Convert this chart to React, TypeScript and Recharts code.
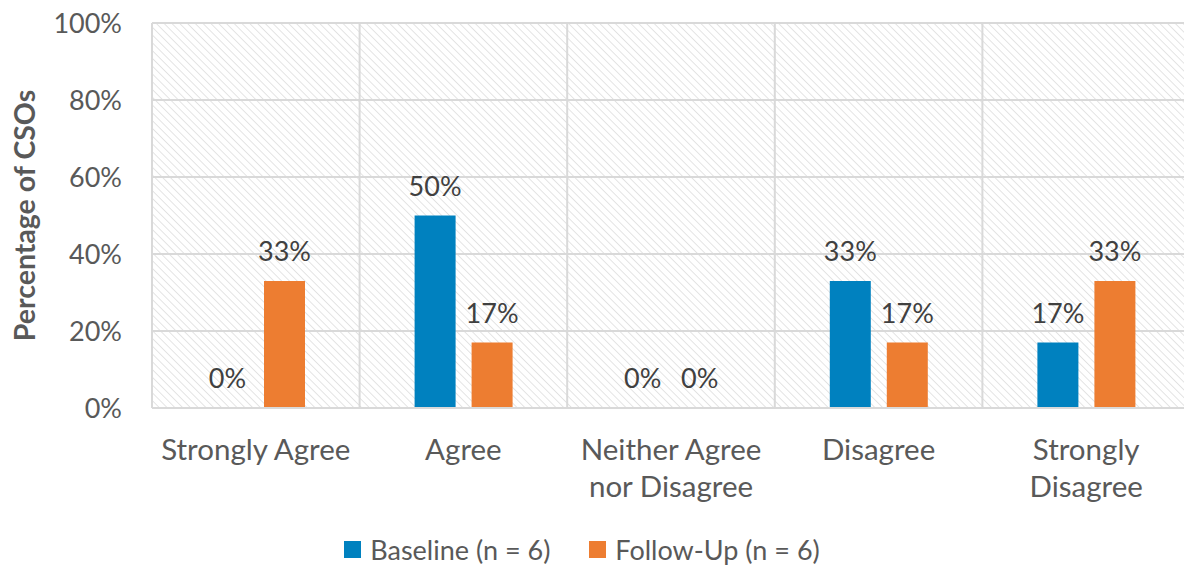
import React from "react";
import {
  BarChart,
  Bar,
  XAxis,
  YAxis,
  CartesianGrid,
  Legend,
  LabelList,
} from "recharts";

// Survey response categories (each entry holds the lines of its axis label)
const categoryLines: string[][] = [
  ["Strongly Agree"],
  ["Agree"],
  ["Neither Agree", "nor Disagree"],
  ["Disagree"],
  ["Strongly", "Disagree"],
];
const categories = categoryLines.map((l) => l.join(" "));

// Share of CSOs per response, in percent
const baselineValues = [0, 50, 0, 33, 17];
const followUpValues = [33, 17, 0, 17, 33];

const yTicks = [0, 20, 40, 60, 80, 100];

const seriesNames = ["Baseline (n = 6)", "Follow-Up (n = 6)"];
const seriesColors = ["#0081BF", "#ED7D31"];

const data = categories.map((c, i) => ({
  category: c,
  baseline: baselineValues[i],
  followUp: followUpValues[i],
}));

const FONT = "Lato, 'Open Sans', sans-serif";
const TEXT = "#595959";
const GRID = "#d9d9d9";

const CategoryTick = (props: any) => {
  const { x, y, payload } = props;
  const idx = categories.indexOf(payload.value);
  const lines = idx >= 0 ? categoryLines[idx] : [payload.value];
  return (
    <text
      x={x}
      y={y + 52}
      textAnchor="middle"
      fill={TEXT}
      fontFamily={FONT}
      fontSize={29.5}
    >
      {lines.map((ln, i) => (
        <tspan key={i} x={x} dy={i === 0 ? 0 : 37}>
          {ln}
        </tspan>
      ))}
    </text>
  );
};

const LegendContent = (props: any) => {
  const { payload } = props;
  return (
    <div
      style={{
        display: "flex",
        justifyContent: "center",
        alignItems: "center",
        fontFamily: FONT,
        fontSize: 27,
        color: TEXT,
      }}
    >
      {(payload || []).map((p: any, i: number) => (
        <div
          key={i}
          style={{
            display: "flex",
            alignItems: "center",
            marginLeft: i === 0 ? 0 : 39,
          }}
        >
          <span
            style={{
              display: "inline-block",
              width: 17,
              height: 17,
              background: p.color,
              marginRight: 9,
            }}
          />
          <span>{p.value}</span>
        </div>
      ))}
    </div>
  );
};

const pct = (v: any) => `${v}%`;

// keep zero-value bars in the layout so their "0%" labels are still placed
const keepZero = (v: any) => (v === 0 ? 0.01 : 0);

export default function App() {
  return (
    <div
      style={{
        position: "absolute",
        left: 0,
        top: 0,
        width: 1184,
        height: 568,
        overflow: "hidden",
        background: "#fff",
      }}
    >
      <svg width={0} height={0} style={{ position: "absolute" }}>
        <defs>
          <pattern
            id="plotHatch"
            width={5.5}
            height={5.5}
            patternUnits="userSpaceOnUse"
            patternTransform="rotate(-45)"
          >
            <rect width={5.5} height={5.5} fill="#ffffff" />
            <line x1={0} y1={0} x2={0} y2={5.5} stroke="#dadada" strokeWidth={1.4} />
          </pattern>
        </defs>
      </svg>
      <BarChart
        width={1190}
        height={568}
        data={data}
        margin={{ top: 23, right: 0, bottom: 50, left: 0 }}
        barSize={41}
        barGap={16}
      >
        <CartesianGrid
          stroke={GRID}
          strokeWidth={2}
          fill="url(#plotHatch)"
          fillOpacity={1}
          verticalCoordinatesGenerator={({ offset }: any) =>
            categories.map((_, i) => offset.left + (i * offset.width) / categories.length)
          }
        />
        <XAxis
          dataKey="category"
          height={110}
          interval={0}
          tickLine={false}
          tickSize={0}
          tickMargin={0}
          axisLine={{ stroke: GRID, strokeWidth: 2 }}
          tick={<CategoryTick />}
        />
        <YAxis
          width={152}
          domain={[0, 100]}
          ticks={yTicks}
          tickFormatter={pct}
          axisLine={false}
          tickLine={false}
          tickSize={0}
          tickMargin={30}
          tick={{ fill: TEXT, fontFamily: FONT, fontSize: 27 }}
          label={{
            value: "Percentage of CSOs",
            angle: -90,
            position: "insideLeft",
            offset: 25,
            style: {
              textAnchor: "middle",
              fill: TEXT,
              fontFamily: FONT,
              fontSize: 28.5,
              fontWeight: 700,
            },
          }}
        />
        <Legend
          verticalAlign="middle"
          align="center"
          layout="horizontal"
          wrapperStyle={{ top: 533, left: 0, width: 1164 }}
          content={<LegendContent />}
        />
        <Bar
          dataKey="baseline"
          name={seriesNames[0]}
          fill={seriesColors[0]}
          minPointSize={keepZero}
          isAnimationActive={false}
        >
          <LabelList
            dataKey="baseline"
            position="top"
            offset={20}
            formatter={pct}
            fill="#404040"
            fontFamily={FONT}
            fontSize={27}
          />
        </Bar>
        <Bar
          dataKey="followUp"
          name={seriesNames[1]}
          fill={seriesColors[1]}
          minPointSize={keepZero}
          isAnimationActive={false}
        >
          <LabelList
            dataKey="followUp"
            position="top"
            offset={20}
            formatter={pct}
            fill="#404040"
            fontFamily={FONT}
            fontSize={27}
          />
        </Bar>
      </BarChart>
    </div>
  );
}
